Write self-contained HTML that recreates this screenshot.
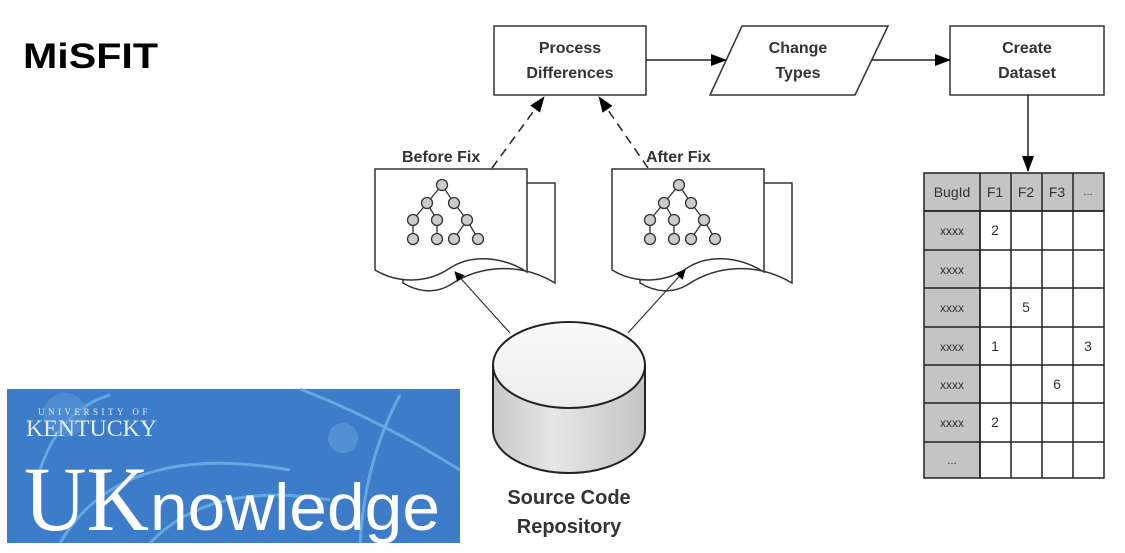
<!DOCTYPE html>
<html><head><meta charset="utf-8"><style>
html,body{margin:0;padding:0;background:#fff;width:1125px;height:553px;overflow:hidden}
</style></head><body>
<svg width="1125" height="553" viewBox="0 0 1125 553" xmlns="http://www.w3.org/2000/svg" font-family="Liberation Sans, sans-serif">
<defs>
<marker id="ah" markerWidth="10" markerHeight="10" refX="9" refY="5" orient="auto" markerUnits="userSpaceOnUse"><path d="M0,0 L10,5 L0,10 z" fill="#000"/></marker>
<marker id="ah2" markerWidth="16" markerHeight="12" refX="15" refY="6" orient="auto" markerUnits="userSpaceOnUse"><path d="M0,0 L16,6 L0,12 z" fill="#000"/></marker>
<linearGradient id="cyl" x1="0" x2="1"><stop offset="0" stop-color="#c8c8c8"/><stop offset="0.4" stop-color="#e6e6e6"/><stop offset="1" stop-color="#c4c4c4"/></linearGradient>
<linearGradient id="cyt" x1="0" y1="0" x2="0" y2="1"><stop offset="0" stop-color="#fafafa"/><stop offset="1" stop-color="#ececec"/></linearGradient>
</defs>
<text x="23" y="68" font-size="35" font-weight="bold" textLength="135" lengthAdjust="spacingAndGlyphs">MiSFIT</text>

<!-- top boxes -->
<g stroke="#333" stroke-width="1.5" fill="#fff">
<rect x="494" y="26" width="152" height="69"/>
<polygon points="742,26 888,26 855,95 710,95"/>
<rect x="950" y="26" width="154" height="69"/>
</g>
<g font-size="16" font-weight="bold" fill="#333" text-anchor="middle">
<text x="570" y="53">Process</text><text x="570" y="78">Differences</text>
<text x="798" y="53">Change</text><text x="798" y="78">Types</text>
<text x="1027" y="53">Create</text><text x="1027" y="78">Dataset</text>
</g>
<g stroke="#222" stroke-width="1.5" fill="none">
<line x1="646" y1="60" x2="726" y2="60" marker-end="url(#ah2)"/>
<line x1="872" y1="60" x2="950" y2="60" marker-end="url(#ah2)"/>
<line x1="1028" y1="95" x2="1028" y2="171" marker-end="url(#ah2)"/>
<line x1="492" y1="168" x2="544" y2="97" stroke-dasharray="9,6" marker-end="url(#ah2)"/>
<line x1="648" y1="168" x2="599" y2="97" stroke-dasharray="9,6" marker-end="url(#ah2)"/>
</g>

<!-- docs -->
<g id="doc" stroke="#333" stroke-width="1.5" fill="#fff">
<path d="M527,183 L555,183 L555,283 C520,262 480,265 450,285 C435,294 418,292 403,283 L403,270 Z"/>
<path d="M375,169 L527,169 L527,272 C500,255 470,255 450,268 C430,282 400,285 375,270 Z"/>
</g>
<use href="#doc" transform="translate(237,0)"/>
<g id="tree" stroke="#333" stroke-width="1.3">
<g fill="none">
<path d="M442,185 L427,203 L413,220 L413,239 M427,203 L437,220 L437,239 M442,185 L454,203 L467,220 L454,239 M467,220 L478,239"/>
</g>
<g fill="#ccc">
<circle cx="442" cy="185" r="5.5"/><circle cx="427" cy="203" r="5.5"/><circle cx="454" cy="203" r="5.5"/>
<circle cx="413" cy="220" r="5.5"/><circle cx="437" cy="220" r="5.5"/><circle cx="467" cy="220" r="5.5"/>
<circle cx="413" cy="239" r="5.5"/><circle cx="437" cy="239" r="5.5"/><circle cx="454" cy="239" r="5.5"/><circle cx="478" cy="239" r="5.5"/>
</g>
</g>
<use href="#tree" transform="translate(237,0)"/>
<g font-size="16" font-weight="bold" fill="#333">
<text x="402" y="162">Before Fix</text>
<text x="646" y="162">After Fix</text>
</g>
<g stroke="#333" stroke-width="1.2">
<line x1="510" y1="333" x2="455" y2="272" marker-end="url(#ah)"/>
<line x1="628" y1="333" x2="685" y2="270" marker-end="url(#ah)"/>
</g>

<!-- cylinder -->
<path d="M493,365 L493,430 A76,43 0 0 0 645,430 L645,365 Z" fill="url(#cyl)" stroke="#222" stroke-width="2"/>
<ellipse cx="569" cy="365" rx="76" ry="43" fill="url(#cyt)" stroke="#222" stroke-width="2"/>
<g font-size="20" font-weight="bold" fill="#333" text-anchor="middle">
<text x="569" y="504">Source Code</text><text x="569" y="533">Repository</text>
</g>

<!-- table -->
<g stroke="#222" stroke-width="1.5">
<rect x="924" y="173" width="180" height="38" fill="#c4c4c4"/>
<rect x="924" y="211" width="56" height="267" fill="#c4c4c4"/>
<rect x="980" y="211" width="124" height="267" fill="#fff"/>
<path d="M980,173V478 M1011,173V478 M1042,173V478 M1073,173V478 M924,211H1104 M924,250H1104 M924,288H1104 M924,327H1104 M924,365H1104 M924,403H1104 M924,442H1104" fill="none"/>
</g>
<g font-size="14" fill="#333" text-anchor="middle">
<text x="952" y="197">BugId</text><text x="995" y="197">F1</text><text x="1026" y="197">F2</text><text x="1057" y="197">F3</text><text x="1088" y="195" font-size="11">...</text>
<g font-size="12"><text x="952" y="235">xxxx</text><text x="952" y="274">xxxx</text><text x="952" y="312">xxxx</text><text x="952" y="351">xxxx</text><text x="952" y="389">xxxx</text><text x="952" y="427">xxxx</text><text x="952" y="464" font-size="11">...</text></g>
<text x="995" y="235">2</text><text x="1026" y="312">5</text><text x="995" y="351">1</text><text x="1088" y="351">3</text><text x="1057" y="389">6</text><text x="995" y="427">2</text>
</g>

<!-- UK logo -->
<rect x="7" y="389" width="453" height="154" fill="#3d7cc9"/>
<g fill="none" stroke="#6fb2ea" stroke-width="3" opacity="0.8">
<path d="M300,389 Q380,420 460,470"/>
<path d="M400,395 Q365,460 360,543"/>
<path d="M60,543 Q120,440 290,470"/>
<path d="M150,543 Q210,480 330,500"/>
<path d="M40,470 Q60,410 110,395"/>
</g>
<circle cx="65" cy="415" r="22" fill="#5a98d8" opacity="0.6"/>
<circle cx="343" cy="438" r="15" fill="#5a98d8" opacity="0.7"/>
<g fill="#e8eef8" font-family="Liberation Serif, serif">
<text x="38" y="415" font-size="9" letter-spacing="3.5">UNIVERSITY OF</text>
<text x="26" y="436" font-size="23" textLength="131" lengthAdjust="spacingAndGlyphs">KENTUCKY</text>
<text x="24" y="530" font-size="92" textLength="125" lengthAdjust="spacingAndGlyphs" fill="#fff">UK</text>
</g>
<text x="150" y="530" font-size="66" fill="#fff" textLength="290" lengthAdjust="spacingAndGlyphs">nowledge</text>
</svg>
</body></html>
